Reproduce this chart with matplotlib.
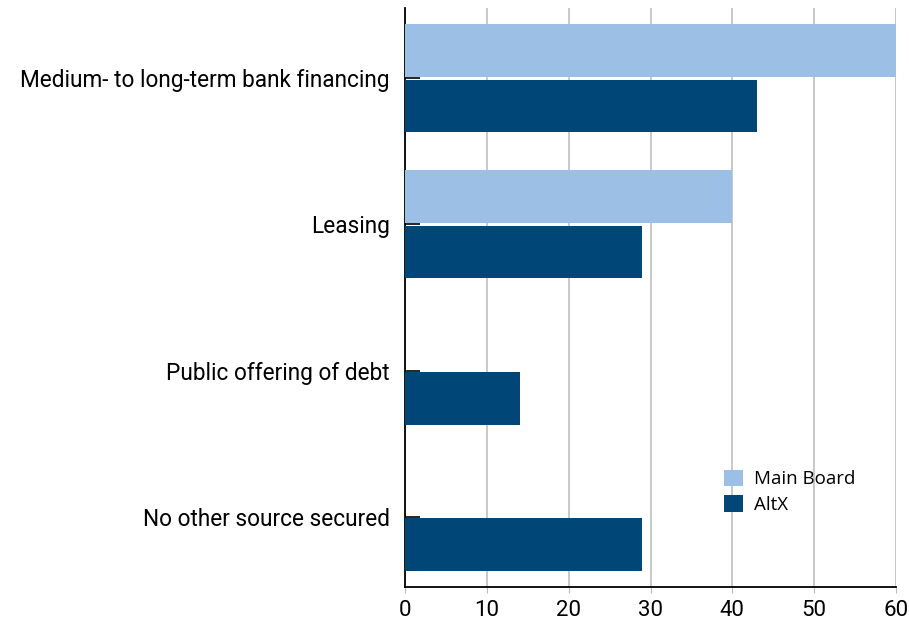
import numpy as np
import matplotlib
matplotlib.use("Agg")
import matplotlib.pyplot as plt

# Data
categories = ["Medium- to long-term bank financing", "Leasing",
              "Public offering of debt", "No other source secured"]
main_board = [60, 40, 0, 0]
altx = [43, 29, 14, 29]
series_names = ["Main Board", "AltX"]
colors = ["#9bbfe5", "#004677"]

plt.rcParams["font.family"] = ["Roboto", "DejaVu Sans"]

fig = plt.figure(figsize=(9.09, 6.2), dpi=100)
ax = fig.add_axes([405/909, 1-587/620, 491/909, 579/620])

y = np.arange(len(categories))
h = 0.36
ax.barh(y - 0.19, main_board, height=h, color=colors[0], label=series_names[0], zorder=3)
ax.barh(y + 0.19, altx, height=h, color=colors[1], label=series_names[1], zorder=3)

ax.set_xlim(0, 60)
ax.set_ylim(len(categories) - 1 + 0.48, -0.48)
ax.set_xticks(range(0, 61, 10))
ax.set_yticks(y)
ax.set_yticklabels(categories, fontsize=16.3)
ax.tick_params(axis="x", labelsize=16, length=4, color="#bbbbbb", pad=5)
ax.tick_params(axis="y", direction="in", length=11, width=1.2, pad=11)
ax.grid(axis="x", color="#c8c8c8", linewidth=1.4, zorder=0)
for s in ["top", "right"]:
    ax.spines[s].set_visible(False)
ax.spines["left"].set_linewidth(1.3)
ax.spines["bottom"].set_linewidth(1.3)

leg = ax.legend(loc="upper left", bbox_to_anchor=(0.615, 0.232), frameon=False,
                handlelength=1.0, handleheight=1.0, handletextpad=0.6,
                labelspacing=0.35, prop={"family": ["Open Sans", "DejaVu Sans"], "size": 13.5})

fig.savefig("out.png", dpi=100)
